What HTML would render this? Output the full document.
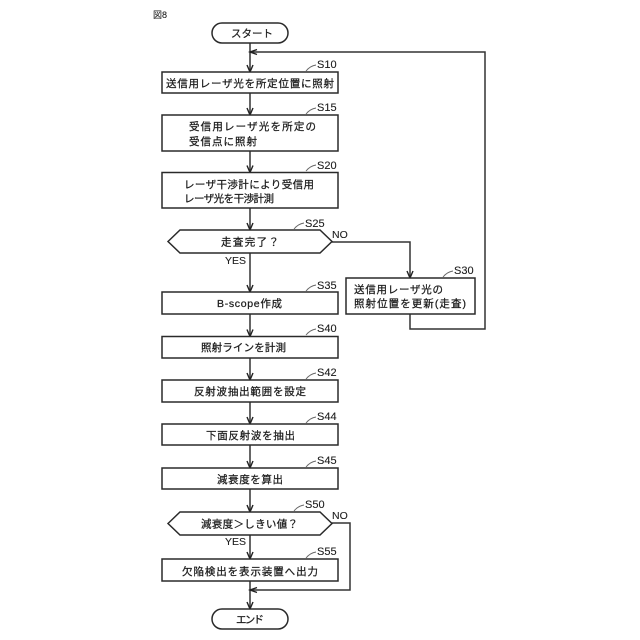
<!DOCTYPE html>
<html><head><meta charset="utf-8"><style>
html,body{margin:0;padding:0;background:#fff}
svg{display:block}
text{font-family:"Liberation Sans","Noto Sans CJK JP",sans-serif;font-size:10.5px;fill:#1c1c1c;stroke:#1c1c1c;stroke-width:.25}
.s{font-size:11px;stroke-width:.1}
.b{fill:#fff;stroke:#2a2a2a;stroke-width:1.5}
.l{fill:none;stroke:#333;stroke-width:1.5}
.c{fill:none;stroke:#666;stroke-width:.9}
.a{fill:none;stroke:#222;stroke-width:1.4}
</style></head><body>
<svg width="640" height="640" viewBox="0 0 640 640" xmlns="http://www.w3.org/2000/svg">
<text x="153" y="18" style="font-size:9px;stroke-width:.1">図8</text>
<!-- connectors -->
<path class="l" d="M250 43V72M250 93V115M250 151V172.5M250 208V230M250 253V292M250 314V336.5M250 358V380M250 402V424M250 445V468M250 489V512M250 535V559M250 581V609"/>
<path class="l" d="M332 242H410V278M410 314V329H485V52H250M332 523H350V590H250"/>
<path class="a" d="M247 65L250 72L253 65M247 108L250 115L253 108M247 165.5L250 172.5L253 165.5M247 223L250 230L253 223M247 285L250 292L253 285M247 329.5L250 336.5L253 329.5M247 373L250 380L253 373M247 417L250 424L253 417M247 461L250 468L253 461M247 505L250 512L253 505M247 552L250 559L253 552M247 602L250 609L253 602M407 271L410 278L413 271M257 49.5L250 52L257 54.5M257 587.5L250 590L257 592.5"/>
<!-- shapes -->
<rect class="b" x="212" y="23" width="76" height="20" rx="10"/>
<rect class="b" x="162" y="72" width="176" height="21"/>
<rect class="b" x="162" y="115" width="176" height="36"/>
<rect class="b" x="162" y="172.5" width="176" height="35.5"/>
<polygon class="b" points="168,241.5 180,230 320,230 332,241.5 320,253 180,253"/>
<rect class="b" x="162" y="292" width="176" height="22"/>
<rect class="b" x="162" y="336.5" width="176" height="21.5"/>
<rect class="b" x="162" y="380" width="176" height="22"/>
<rect class="b" x="162" y="424" width="176" height="21"/>
<rect class="b" x="162" y="468" width="176" height="21"/>
<polygon class="b" points="168,523.5 180,512 320,512 332,523.5 320,535 180,535"/>
<rect class="b" x="162" y="559" width="176" height="22"/>
<rect class="b" x="346" y="278" width="129" height="36"/>
<rect class="b" x="212" y="609" width="76" height="20" rx="10"/>
<!-- leader curves -->
<path class="c" d="M306 71Q310 66 316 65M306 114Q310 109 316 108M306 171Q310 166 316 165M294 229Q298 224 304 223M306 291Q310 286 316 285M306 335Q310 330 316 329M306 379Q310 374 316 373M306 423Q310 418 316 417M306 467Q310 462 316 461M294 511Q298 506 304 505M306 558Q310 553 316 552M443 277Q447 272 453 271"/>
<!-- labels -->
<text x="231" y="37">スタート</text>
<text x="166" y="87" textLength="168" lengthAdjust="spacing">送信用レーザ光を所定位置に照射</text>
<text x="189" y="130" textLength="127" lengthAdjust="spacing">受信用レーザ光を所定の</text>
<text x="189" y="145" textLength="68" lengthAdjust="spacing">受信点に照射</text>
<text x="184" y="188" textLength="130" lengthAdjust="spacing">レーザ干渉計により受信用</text>
<text x="184" y="202" textLength="90" lengthAdjust="spacing">レーザ光を干渉計測</text>
<text x="221" y="245.5" textLength="58" lengthAdjust="spacing">走査完了？</text>
<text x="217" y="307" textLength="65" lengthAdjust="spacing">B-scope作成</text>
<text x="201" y="351" textLength="85" lengthAdjust="spacing">照射ラインを計測</text>
<text x="194" y="395" textLength="112" lengthAdjust="spacing">反射波抽出範囲を設定</text>
<text x="206" y="439" textLength="89" lengthAdjust="spacing">下面反射波を抽出</text>
<text x="217" y="483" textLength="66" lengthAdjust="spacing">減衰度を算出</text>
<text x="201" y="527.5" textLength="97" lengthAdjust="spacing">減衰度＞しきい値？</text>
<text x="182" y="575" textLength="136" lengthAdjust="spacing">欠陥検出を表示装置へ出力</text>
<text x="236" y="623" textLength="28" lengthAdjust="spacing">エンド</text>
<text x="354" y="293" textLength="89" lengthAdjust="spacing">送信用レーザ光の</text>
<text x="354" y="307" textLength="112" lengthAdjust="spacing">照射位置を更新(走査)</text>
<text class="s" x="225" y="264" style="font-size:10.5px">YES</text>
<text class="s" x="225" y="545" style="font-size:10.5px">YES</text>
<text class="s" x="332" y="238" style="font-size:10.5px">NO</text>
<text class="s" x="332" y="519" style="font-size:10.5px">NO</text>
<text class="s" x="317" y="68">S10</text>
<text class="s" x="317" y="111">S15</text>
<text class="s" x="317" y="169">S20</text>
<text class="s" x="305" y="227">S25</text>
<text class="s" x="317" y="289">S35</text>
<text class="s" x="317" y="332">S40</text>
<text class="s" x="317" y="376">S42</text>
<text class="s" x="317" y="420">S44</text>
<text class="s" x="317" y="464">S45</text>
<text class="s" x="305" y="508">S50</text>
<text class="s" x="317" y="555">S55</text>
<text class="s" x="454" y="274">S30</text>
</svg>
</body></html>
